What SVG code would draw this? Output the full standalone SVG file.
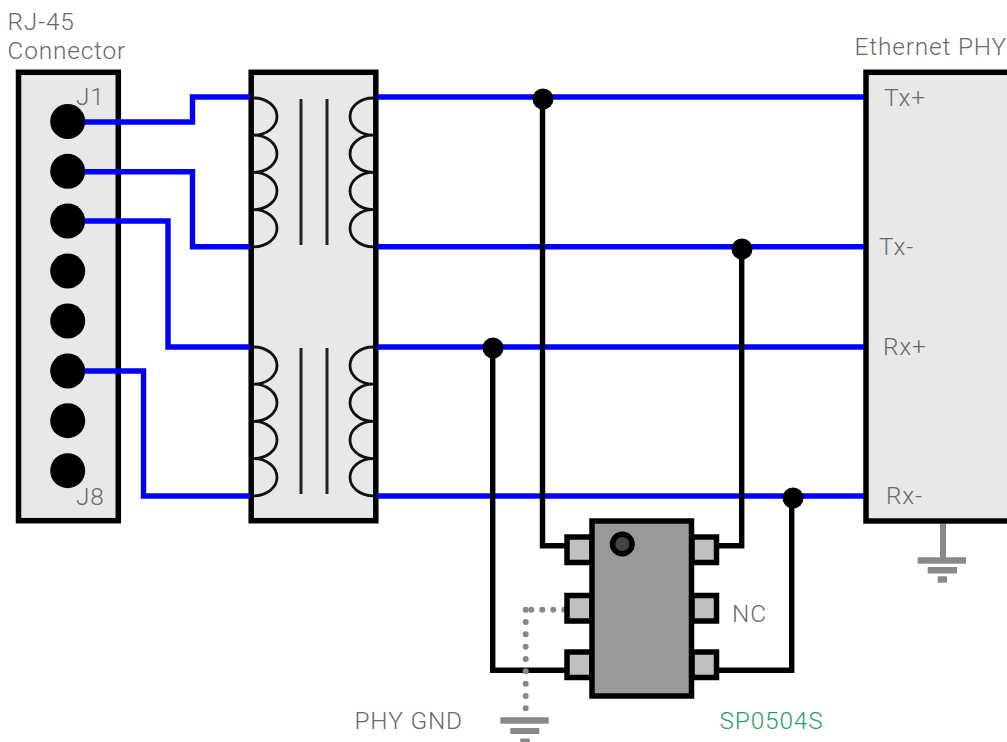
<svg xmlns="http://www.w3.org/2000/svg" width="1007" height="742" viewBox="0 0 1007 742">
<style>
.box{fill:#e8e8e8;stroke:#000;stroke-width:5.5}
.pad{fill:#c0c0c0;stroke:#000;stroke-width:5.5}
.pin{fill:#000}
.blue{fill:none;stroke:#0000ff;stroke-width:5.4}
.wire{fill:none;stroke:#000;stroke-width:5.4}
.coil{fill:none;stroke:#111;stroke-width:2.8}
.core{fill:none;stroke:#222;stroke-width:3}
.gnd{fill:#888}
.dot{fill:none;stroke:#888;stroke-width:6;stroke-linecap:round}
text{font-family:Roboto,"Liberation Sans",sans-serif;font-size:24.4px;font-weight:300;fill:#6a6a6a;letter-spacing:.85px}
</style>
<rect width="1007" height="742" fill="#fff"/>
<g id="j-connector">
<rect class="box" x="18.5" y="72.3" width="99.8" height="448.4"/>
<circle class="pin" cx="67.7" cy="121.5" r="17.5"/>
<circle class="pin" cx="67.7" cy="171.3" r="17.5"/>
<circle class="pin" cx="67.7" cy="221" r="17.5"/>
<circle class="pin" cx="67.7" cy="271" r="17.5"/>
<circle class="pin" cx="67.7" cy="321" r="17.5"/>
<circle class="pin" cx="67.7" cy="371" r="17.5"/>
<circle class="pin" cx="67.7" cy="420.7" r="17.5"/>
<circle class="pin" cx="67.7" cy="470.7" r="17.5"/>
<text x="76" y="105">J1</text>
<text x="76" y="505">J8</text>
<text x="7.5" y="30">RJ-45</text>
<text x="7.5" y="59">Connector</text>
</g>
<g id="transformer">
<rect class="box" x="251.2" y="72.3" width="124.6" height="448.4"/>
<path class="coil" d="M254 98a23 18.6 0 0 1 0 37.2a23 18.6 0 0 1 0 37.2a23 18.6 0 0 1 0 37.2a23 18.6 0 0 1 0 37.2"/>
<path class="coil" d="M373 98a23 18.6 0 0 0 0 37.2a23 18.6 0 0 0 0 37.2a23 18.6 0 0 0 0 37.2a23 18.6 0 0 0 0 37.2"/>
<path class="coil" d="M254 347a23 18.6 0 0 1 0 37.2a23 18.6 0 0 1 0 37.2a23 18.6 0 0 1 0 37.2a23 18.6 0 0 1 0 37.2"/>
<path class="coil" d="M373 347a23 18.6 0 0 0 0 37.2a23 18.6 0 0 0 0 37.2a23 18.6 0 0 0 0 37.2a23 18.6 0 0 0 0 37.2"/>
<path class="core" d="M301 99V245M327 99V245M301 348V494M327 348V494"/>
</g>
<g id="ethernet-phy">
<rect class="box" x="866" y="72.3" width="150" height="448.7"/>
<text x="854.5" y="55">Ethernet PHY</text>
<text x="884" y="106">Tx+</text>
<text x="879" y="255">Tx-</text>
<text x="883" y="355">Rx+</text>
<text x="886" y="504">Rx-</text>
</g>
<g id="phy-ground">
<rect class="gnd" x="940" y="524" width="6" height="34"/>
<rect class="gnd" x="917.7" y="557.3" width="48.3" height="6.4"/>
<rect class="gnd" x="927.7" y="567" width="29.3" height="6.5"/>
<rect class="gnd" x="937.7" y="576.3" width="9.3" height="6.4"/>
</g>
<g id="connectors">
<path class="blue" d="M85 122H192.5V97H250"/>
<path class="blue" d="M85 171.7H192.5V246.7H250"/>
<path class="blue" d="M85 221H168V347H250"/>
<path class="blue" d="M85 371H143.5V496H250"/>
<path class="blue" d="M377 97H864"/>
<path class="blue" d="M377 246.7H864"/>
<path class="blue" d="M377 347H864"/>
<path class="blue" d="M377 496H864"/>
<path class="wire" d="M542.5 99V545.7H567"/>
<path class="wire" d="M741.7 249V545.7H717"/>
<path class="wire" d="M492.7 348V670.3H567"/>
<path class="wire" d="M791.7 498V670.3H717"/>
<circle class="pin" cx="543" cy="99" r="10.5"/>
<circle class="pin" cx="742" cy="249" r="10.5"/>
<circle class="pin" cx="493" cy="348" r="10.5"/>
<circle class="pin" cx="793" cy="498" r="10.5"/>
<path class="dot" d="M531.3 609.7H566" stroke-dasharray="0 11"/>
<path class="dot" d="M525.7 609.7V710" stroke-dasharray="0 12.33"/>
</g>
<g id="sp0504s">
<rect class="pad" x="567" y="537" width="25" height="25.5"/>
<rect class="pad" x="567" y="595.5" width="25" height="25.5"/>
<rect class="pad" x="567" y="652" width="25" height="25.5"/>
<rect class="pad" x="692" y="537" width="24.5" height="25.5"/>
<rect class="pad" x="692" y="595.5" width="24.5" height="25.5"/>
<rect class="pad" x="692" y="652" width="24.5" height="25.5"/>
<rect x="592" y="521" width="99.5" height="175" fill="#999" stroke="#000" stroke-width="5.5"/>
<circle cx="622.3" cy="544" r="9.8" fill="#444" stroke="#000" stroke-width="5.5"/>
<text x="732" y="622">NC</text>
<text x="719.5" y="729" style="fill:#2e9e6b">SP0504S</text>
</g>
<g id="phy-gnd">
<rect class="gnd" x="500.3" y="717.3" width="48.4" height="6.4"/>
<rect class="gnd" x="510.3" y="728" width="29" height="6"/>
<rect class="gnd" x="520.3" y="738.5" width="9.5" height="3.5"/>
<text x="354.5" y="729">PHY GND</text>
</g>
</svg>
